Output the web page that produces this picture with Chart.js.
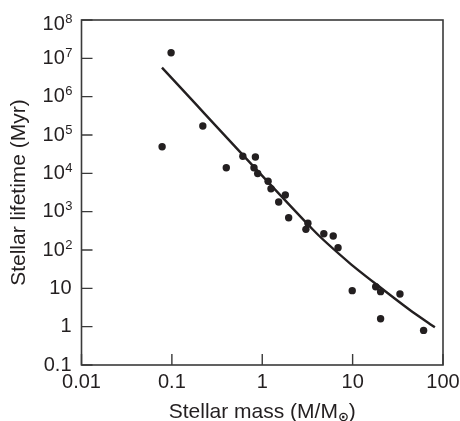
<!DOCTYPE html>
<html>
<head>
<meta charset="utf-8">
<script src="https://cdn.jsdelivr.net/npm/chart.js@4/dist/chart.umd.min.js"></script>
<style>
  html, body { margin: 0; padding: 0; background: #ffffff; }
  #wrap { width: 460px; height: 421px; position: relative; }
</style>
</head>
<body>
<div id="wrap"><canvas id="c" width="460" height="421"></canvas></div>
<script>
// Observed stars: mass (solar masses) and lifetime (Myr)
const starMass = [0.078, 0.098, 0.22, 0.40, 0.61, 0.81, 0.84, 0.89, 1.16, 1.25, 1.52, 1.80, 1.96, 3.04, 3.2, 4.8, 6.1, 6.9, 9.9, 18, 20.4, 20.4, 33.4, 61];
const starLifetime = [4.95e4, 1.4e7, 1.72e5, 1.4e4, 2.8e4, 1.4e4, 2.67e4, 9.9e3, 6.2e3, 3.97e3, 1.79e3, 2.72e3, 695, 346, 497, 266, 232, 115, 8.7, 11, 8.2, 1.61, 7.1, 0.80];

// Theoretical relation (solid curve)
const curveMass = [0.0777, 3.67, 9.33, 20.0, 43.0, 81.3];
const curveLifetime = [5.7e6, 332, 44.9, 10.8, 2.72, 0.96];

// Axis ticks
const xTickValues = [0.01, 0.1, 1, 10, 100];
const xTickLabels = ['0.01', '0.1', '1', '10', '100'];
const yTickValues = [0.1, 1, 10, 1e2, 1e3, 1e4, 1e5, 1e6, 1e7, 1e8];
const yTickBase = ['0.1', '1', '10', '10', '10', '10', '10', '10', '10', '10'];
const yTickExp = ['', '', '', '2', '3', '4', '5', '6', '7', '8'];

const xTitle = 'Stellar mass (M/M';
const xTitleSub = '\u2299';
const xTitleEnd = ')';
const yTitle = 'Stellar lifetime (Myr)';

const FONT = '"Liberation Sans", Arial, Helvetica, sans-serif';
const INK = '#231f20';

const decor = {
  id: 'decor',
  afterDraw(chart) {
    const ctx = chart.ctx;
    const a = chart.chartArea;
    const xs = chart.scales.x, ys = chart.scales.y;
    ctx.save();
    // frame
    ctx.strokeStyle = '#3a3a3a';
    ctx.lineWidth = 1.6;
    ctx.strokeRect(a.left, a.top, a.right - a.left, a.bottom - a.top);
    // inward ticks
    ctx.lineWidth = 1.4;
    ctx.beginPath();
    xTickValues.forEach(v => {
      const px = xs.getPixelForValue(v);
      ctx.moveTo(px, a.bottom);
      ctx.lineTo(px, a.bottom - 11);
    });
    yTickValues.forEach(v => {
      const py = ys.getPixelForValue(v);
      ctx.moveTo(a.left, py);
      ctx.lineTo(a.left + 11, py);
    });
    ctx.stroke();

    ctx.fillStyle = INK;
    // x tick labels
    ctx.font = '20px ' + FONT;
    ctx.textAlign = 'center';
    ctx.textBaseline = 'alphabetic';
    xTickValues.forEach((v, i) => {
      ctx.fillText(xTickLabels[i], xs.getPixelForValue(v), a.bottom + 23);
    });
    // y tick labels with superscripts
    const rightEdge = a.left - 10;
    yTickValues.forEach((v, i) => {
      let py = ys.getPixelForValue(v);
      if (i === yTickValues.length - 1) py += 4;
      let baseRight = rightEdge;
      if (yTickExp[i]) {
        ctx.font = '13px ' + FONT;
        ctx.textAlign = 'right';
        ctx.textBaseline = 'alphabetic';
        ctx.fillText(yTickExp[i], rightEdge + 1, py - 1.5);
        baseRight = rightEdge + 1 - ctx.measureText(yTickExp[i]).width - 0.5;
      }
      ctx.font = '20px ' + FONT;
      ctx.textAlign = 'right';
      ctx.textBaseline = 'middle';
      ctx.fillText(yTickBase[i], baseRight, py);
    });
    // x title with subscript sun symbol
    ctx.textBaseline = 'alphabetic';
    ctx.textAlign = 'left';
    ctx.font = '21px ' + FONT;
    const w1 = ctx.measureText(xTitle).width;
    const w3 = ctx.measureText(xTitleEnd).width;
    const subFont = 'bold 13px "DejaVu Sans", sans-serif';
    ctx.font = subFont;
    const w2 = ctx.measureText(xTitleSub).width;
    const total = w1 + w2 + w3;
    let x0 = (a.left + a.right) / 2 - total / 2;
    const base = 418;
    ctx.font = '21px ' + FONT;
    ctx.fillText(xTitle, x0, base);
    ctx.font = subFont;
    ctx.fillText(xTitleSub, x0 + w1, base + 2.5);
    ctx.font = '21px ' + FONT;
    ctx.fillText(xTitleEnd, x0 + w1 + w2, base);
    // y title
    ctx.save();
    ctx.translate(19, (a.top + a.bottom) / 2);
    ctx.rotate(-Math.PI / 2);
    ctx.textAlign = 'center';
    ctx.textBaseline = 'middle';
    ctx.font = '21px ' + FONT;
    ctx.fillText(yTitle, 0, 0);
    ctx.restore();
    ctx.restore();
  }
};

new Chart(document.getElementById('c'), {
  type: 'scatter',
  data: {
    datasets: [
      {
        label: 'Theory',
        type: 'line',
        data: curveMass.map((m, i) => ({ x: m, y: curveLifetime[i] })),
        borderColor: INK,
        borderWidth: 2.4,
        pointRadius: 0,
        tension: 0.25,
        fill: false,
        order: 2
      },
      {
        label: 'Stars',
        data: starMass.map((m, i) => ({ x: m, y: starLifetime[i] })),
        backgroundColor: INK,
        borderColor: INK,
        borderWidth: 0,
        pointRadius: 3.7,
        order: 1
      }
    ]
  },
  options: {
    responsive: false,
    animation: false,
    events: [],
    layout: { padding: { left: 81.5, right: 17, top: 20, bottom: 56 } },
    plugins: { legend: { display: false }, tooltip: { enabled: false } },
    scales: {
      x: { type: 'logarithmic', min: 0.01, max: 100, display: false },
      y: { type: 'logarithmic', min: 0.1, max: 1e8, display: false }
    }
  },
  plugins: [decor]
});
</script>
</body>
</html>
